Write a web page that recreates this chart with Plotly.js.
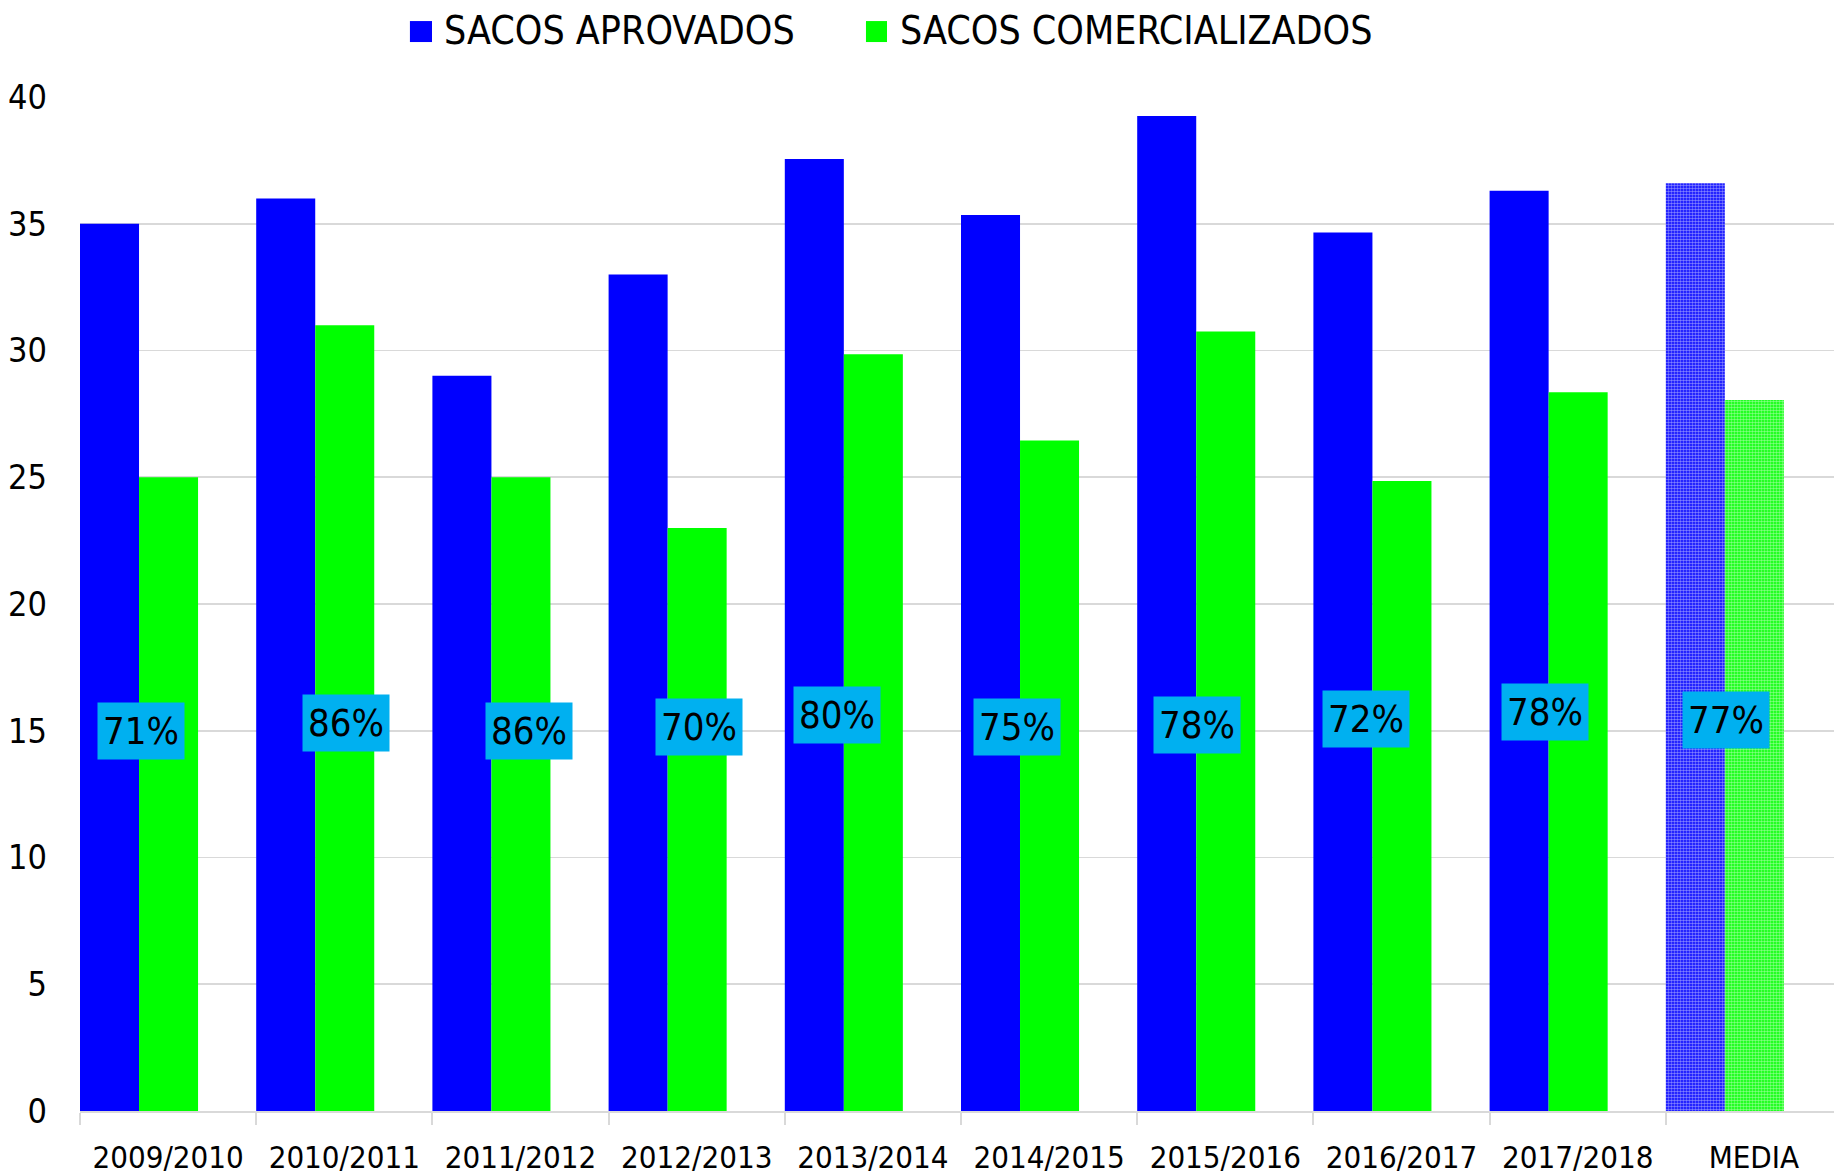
<!DOCTYPE html>
<html>
<head>
<meta charset="utf-8">
<script src="https://cdn.plot.ly/plotly-3.0.1.min.js"></script>
<style>html,body{margin:0;padding:0;background:#fff;}#chart{width:1834px;height:1176px;}</style>
</head>
<body>
<div id="chart"></div>
<script>
// ---- data ----
const safras = ['2009/2010','2010/2011','2011/2012','2012/2013','2013/2014','2014/2015','2015/2016','2016/2017','2017/2018'];
const mediaLabel = 'MEDIA';
const sacosAprovados = [35.0, 36.0, 29.0, 33.0, 37.55, 35.35, 39.25, 34.65, 36.3];
const sacosComercializados = [25.0, 31.0, 25.0, 23.0, 29.85, 26.45, 30.75, 24.85, 28.35];
const mediaAprovados = 36.6;
const mediaComercializados = 28.05;
const percentLabels = ['71%','86%','86%','70%','80%','75%','78%','72%','78%','77%'];
const serieNames = ['SACOS APROVADOS','SACOS COMERCIALIZADOS'];

// ---- style / placement ----
const FONT = '"Liberation Sans Narrow", "Arial Narrow", "DejaVu Sans Condensed", sans-serif';
const BLUE = '#0000FF', GREEN = '#00FF00', LABELBG = '#00B0F0', GRID = '#d9d9d9';
const BW = 0.335;
const labelShift = [-0.151, 0.007, 0.049, 0.012, -0.201, -0.183, -0.163, -0.204, -0.188, -0.156];
const labelY = [14.98, 15.3, 15.0, 15.13, 15.64, 15.15, 15.22, 15.48, 15.75, 15.41];

const allCats = safras.concat([mediaLabel]);

const traces = [
  {type:'bar', name:serieNames[0], x:safras, y:sacosAprovados, offset:-0.5, width:BW,
   marker:{color:BLUE, line:{width:0}}, showlegend:false, hoverinfo:'y'},
  {type:'bar', name:serieNames[1], x:safras, y:sacosComercializados, offset:-0.5+BW, width:BW,
   marker:{color:GREEN, line:{width:0}}, showlegend:false, hoverinfo:'y'},
  {type:'bar', name:serieNames[0], x:[mediaLabel], y:[mediaAprovados], offset:-0.5, width:BW,
   marker:{color:BLUE, line:{width:0}, pattern:{shape:'.', bgcolor:BLUE, fgcolor:'#ffffff', size:3, solidity:0.55, fillmode:'overlay'}},
   showlegend:false, hoverinfo:'y'},
  {type:'bar', name:serieNames[1], x:[mediaLabel], y:[mediaComercializados], offset:-0.5+BW, width:BW,
   marker:{color:GREEN, line:{width:0}, pattern:{shape:'.', bgcolor:GREEN, fgcolor:'#ffffff', size:3, solidity:0.55, fillmode:'overlay'}},
   showlegend:false, hoverinfo:'y'}
];

const annotations = percentLabels.map((t,i)=>({
  x: i + labelShift[i], y: labelY[i], xref:'x', yref:'y',
  text: t, showarrow:false, bgcolor: LABELBG,
  width: 80, height: 50, borderpad: 3,
  font:{family:FONT, size:38, color:'#000'}
}));

// manual legend (paper coords)
annotations.push(
  {x:0.2064, y:1.066, xref:'paper', yref:'paper', xanchor:'left', yanchor:'middle', showarrow:false,
   text:serieNames[0], font:{family:FONT, size:39, color:'#000'}},
  {x:0.4664, y:1.066, xref:'paper', yref:'paper', xanchor:'left', yanchor:'middle', showarrow:false,
   text:serieNames[1], font:{family:FONT, size:39, color:'#000'}}
);
const shapes = [
  {type:'rect', xref:'paper', yref:'paper', x0:0.1881, x1:0.2007, y0:1.0542, y1:1.0749, fillcolor:BLUE, line:{width:0}},
  {type:'rect', xref:'paper', yref:'paper', x0:0.4481, x1:0.4601, y0:1.0542, y1:1.0749, fillcolor:GREEN, line:{width:0}}
];

const layout = {
  width:1834, height:1176,
  margin:{l:80, r:0, t:97, b:65},
  paper_bgcolor:'#fff', plot_bgcolor:'#fff',
  barmode:'overlay',
  showlegend:false,
  font:{family:FONT, color:'#000'},
  xaxis:{type:'category', categoryorder:'array', categoryarray:allCats,
    range:[-0.5, -0.5 + 1754/176.2], tickson:'boundaries', ticks:'outside', ticklen:12, tickcolor:GRID, tickwidth:2,
    showline:true, linecolor:GRID, linewidth:2, showgrid:false, zeroline:false, tickangle:0,
    tickfont:{family:FONT, size:31, color:'#000'}, ticklabelstandoff:18, fixedrange:true},
  yaxis:{range:[0,40], dtick:5, tick0:0, showgrid:true, gridcolor:GRID, gridwidth:1.6,
    zeroline:false, showline:false, ticks:'', tickfont:{family:FONT, size:34, color:'#000'},
    ticklabelstandoff:32, fixedrange:true},
  annotations: annotations,
  shapes: shapes
};

Plotly.newPlot('chart', traces, layout, {staticPlot:true, displayModeBar:false});
</script>
</body>
</html>
